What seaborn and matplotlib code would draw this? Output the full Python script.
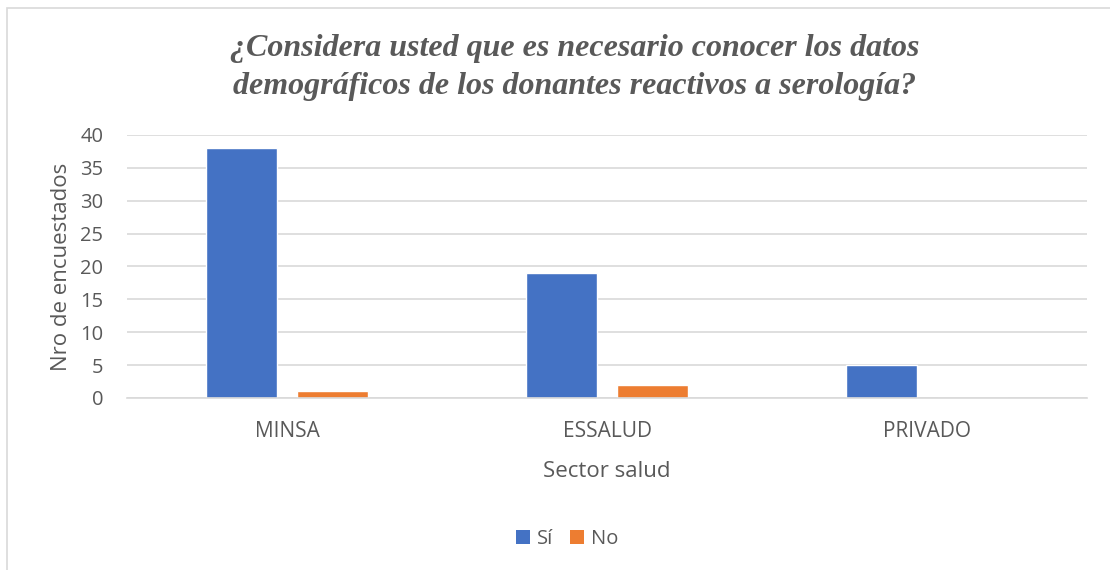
import matplotlib
matplotlib.use("Agg")
import matplotlib.pyplot as plt
import seaborn as sns
import pandas as pd
from matplotlib.patches import Rectangle, Patch

categories = ["MINSA", "ESSALUD", "PRIVADO"]
si_values = [38, 19, 5]
no_values = [1, 2, 0]
series_names = ["Sí", "No"]
y_ticks = [0, 5, 10, 15, 20, 25, 30, 35, 40]

df = pd.DataFrame({
    "Sector": categories * 2,
    "Respuesta": [series_names[0]] * 3 + [series_names[1]] * 3,
    "Valor": si_values + no_values,
})

sns.set_theme(style="white")
plt.rcParams['font.family'] = ['Open Sans', 'DejaVu Sans']
grey = "#595959"
colors = ["#4472C4", "#ED7D31"]

fig = plt.figure(figsize=(11.1, 5.7), dpi=100)
ax = fig.add_axes([0.1144, 0.3018, 0.9793 - 0.1144, 0.7632 - 0.3018])

sns.barplot(data=df, x="Sector", y="Valor", hue="Respuesta", palette=colors,
            width=0.569, gap=0.22, ax=ax, legend=False, saturation=1)

ax.set_ylim(0, 40)
ax.set_xlim(-0.5, 2.5)
ax.set_yticks(y_ticks)
ax.yaxis.grid(True, color="#d9d9d9", linewidth=1.2)
ax.set_axisbelow(True)
for s in ["top", "right", "left"]:
    ax.spines[s].set_visible(False)
ax.spines["bottom"].set_color("#d9d9d9")
ax.spines["bottom"].set_linewidth(1.2)
ax.tick_params(axis="y", length=0, labelsize=14.5, colors=grey, pad=17)
ax.tick_params(axis="x", length=0, labelsize=15, colors=grey, pad=16.5)
ax.set_xlabel("Sector salud", fontsize=16, color=grey, labelpad=14)
ax.set_ylabel("Nro de encuestados", fontsize=16, color=grey, labelpad=6)

fig.text(0.518, 0.882, "¿Considera usted que es necesario conocer los datos\ndemográficos de los donantes reactivos a serología?",
         ha="center", va="center", fontsize=23, color=grey, family="Liberation Serif",
         fontweight="bold", fontstyle="italic", linespacing=1.42)

handles = [Patch(facecolor=c, edgecolor="none") for c in colors]
fig.legend(handles, series_names, loc="center", bbox_to_anchor=(0.511, 0.054), ncol=2,
           frameon=False, fontsize=14.5, labelcolor=grey, handlelength=0.7, handleheight=0.7,
           columnspacing=0.8, handletextpad=0.35)

fig.patches.append(Rectangle((7 / 1110, -0.01), 1.2, 1 - 8 / 570 + 0.01, transform=fig.transFigure,
                             fill=False, edgecolor="#d9d9d9", linewidth=1.2))

fig.savefig("out.png", dpi=100)
